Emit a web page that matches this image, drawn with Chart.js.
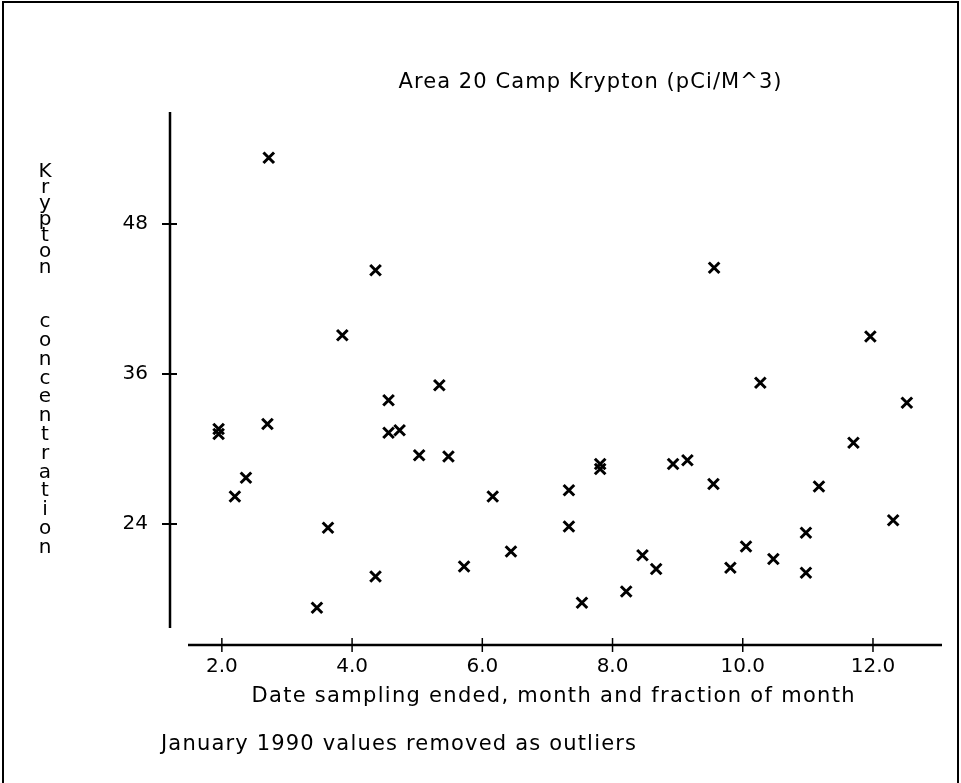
<!DOCTYPE html>
<html>
<head>
<meta charset="utf-8">
<title>Area 20 Camp Krypton</title>
<script src="https://cdn.jsdelivr.net/npm/chart.js@4.4.0/dist/chart.umd.min.js"></script>
<style>
  html, body { margin: 0; padding: 0; background: #fff; }
  #wrap { width: 961px; height: 783px; }
</style>
</head>
<body>
<div id="wrap"><canvas id="kryptonChart" width="961" height="783"></canvas></div>
<script>
// month + fraction of month when sampling ended
const months = [
  1.95, 1.95, 2.20, 2.37, 2.70, 2.72, 3.46, 3.63, 3.85, 4.36,
  4.36, 4.56, 4.56, 4.73, 5.03, 5.34, 5.48, 5.72, 6.16, 6.44,
  7.33, 7.33, 7.53, 7.81, 7.81, 8.21, 8.46, 8.67, 8.93, 9.15,
  9.55, 9.56, 9.81, 10.05, 10.27, 10.47, 10.97, 10.97, 11.17, 11.70,
  11.96, 12.31, 12.52
];
// krypton concentration, pCi/M^3
const krypton = [
  31.2, 31.6, 26.2, 27.7, 32.0, 53.3, 17.3, 23.7, 39.1, 44.3,
  19.8, 33.9, 31.3, 31.5, 29.5, 35.1, 29.4, 20.6, 26.2, 21.8,
  26.7, 23.8, 17.7, 28.4, 28.8, 18.6, 21.5, 20.4, 28.8, 29.1,
  27.2, 44.5, 20.5, 22.2, 35.3, 21.2, 23.3, 20.1, 27.0, 30.5,
  39.0, 24.3, 33.7
];
const xTicks = [2, 4, 6, 8, 10, 12];
const yTicks = [24, 36, 48];

const chartTitle = 'Area 20 Camp Krypton (pCi/M^3)';
const xTitle = 'Date sampling ended, month and fraction of month';
const yTitle = 'Krypton concentration';
const note = 'January 1990 values removed as outliers';

const FONT = '"DejaVu Sans", sans-serif';

function line(ctx, x1, y1, x2, y2) {
  ctx.beginPath();
  ctx.moveTo(x1, y1);
  ctx.lineTo(x2, y2);
  ctx.stroke();
}

// stretch a string to a given width with letter spacing
function spacedText(ctx, text, x, y, width, align) {
  ctx.letterSpacing = '0px';
  const w = ctx.measureText(text).width;
  const ls = (width - w) / (text.length - 1);
  ctx.letterSpacing = ls + 'px';
  const left = align === 'center' ? x - width / 2 : x;
  ctx.textAlign = 'left';
  ctx.fillText(text, left, y);
  ctx.letterSpacing = '0px';
}

const paperPlugin = {
  id: 'paper',
  afterDraw(chart) {
    const ctx = chart.ctx;
    const area = chart.chartArea;
    const xs = chart.scales.x;
    const ys = chart.scales.y;
    ctx.save();
    ctx.strokeStyle = '#000';
    ctx.fillStyle = '#000';

    // page frame
    ctx.lineWidth = 2;
    ctx.strokeRect(3, 2, 955, 800);

    // detached axes
    const axX = area.left - 18;
    const axY = area.bottom + 17;
    ctx.lineWidth = 2.5;
    line(ctx, axX, area.top, axX, area.bottom);
    line(ctx, area.left, axY, area.right, axY);
    ctx.lineWidth = 2;
    yTicks.forEach(v => {
      const py = ys.getPixelForValue(v);
      line(ctx, axX - 8, py, axX + 7, py);
    });
    ctx.lineWidth = 1.5;
    xTicks.forEach(v => {
      const px = xs.getPixelForValue(v);
      line(ctx, px, axY - 7, px, axY + 7);
    });

    // texts
    ctx.font = '21px ' + FONT;
    ctx.textBaseline = 'middle';
    spacedText(ctx, chartTitle, 590, 83, 383, 'center');
    spacedText(ctx, xTitle, 553, 697, 603, 'center');
    spacedText(ctx, note, 161, 745, 475, 'left');

    // stacked vertical y title
    ctx.font = '20px ' + FONT;
    ctx.textAlign = 'center';
    const [w1, w2] = yTitle.split(' ');
    [...w1].forEach((ch, i) => ctx.fillText(ch, 45, 172 + i * 16));
    [...w2].forEach((ch, i) => ctx.fillText(ch, 45, 322 + i * 18.8));
    ctx.restore();
  }
};

new Chart(document.getElementById('kryptonChart'), {
  type: 'scatter',
  data: {
    datasets: [{
      label: 'Krypton',
      data: months.map((m, i) => ({ x: m, y: krypton[i] })),
      pointStyle: 'crossRot',
      pointRadius: 7.5,
      pointHoverRadius: 7.5,
      borderColor: '#000',
      backgroundColor: '#000',
      borderWidth: 3
    }]
  },
  options: {
    responsive: false,
    animation: false,
    layout: { padding: { top: 112, right: 19, bottom: 0, left: 0 } },
    plugins: {
      legend: { display: false },
      title: { display: false },
      tooltip: { enabled: false }
    },
    scales: {
      x: {
        type: 'linear',
        min: 1.48,
        max: 13.06,
        grid: { display: false, drawTicks: false },
        border: { display: false },
        afterFit: s => { s.height = 155; },
        afterBuildTicks: s => { s.ticks = xTicks.map(v => ({ value: v })); },
        ticks: {
          autoSkip: false,
          maxRotation: 0,
          padding: 27,
          color: '#000',
          font: { family: FONT, size: 20 },
          callback: v => v.toFixed(1)
        }
      },
      y: {
        min: 15.68,
        max: 56.96,
        grid: { display: false, drawTicks: false },
        border: { display: false },
        afterFit: s => { s.width = 188; },
        afterBuildTicks: s => { s.ticks = yTicks.map(v => ({ value: v })); },
        ticks: {
          autoSkip: false,
          padding: 40,
          color: '#000',
          font: { family: FONT, size: 20 },
          callback: v => String(v)
        }
      }
    }
  },
  plugins: [paperPlugin]
});
</script>
</body>
</html>
